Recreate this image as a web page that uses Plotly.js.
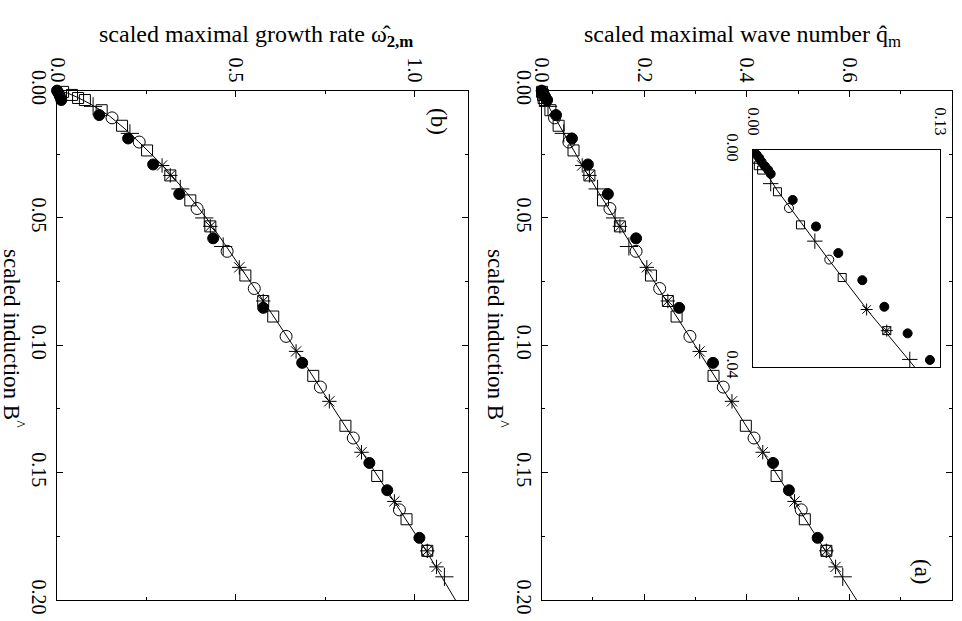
<!DOCTYPE html>
<html>
<head>
<meta charset="utf-8">
<script src="https://cdn.plot.ly/plotly-3.0.1.min.js"></script>
<style>
html,body{margin:0;padding:0;background:#fff;}
#chart{width:962px;height:621px;}
</style>
</head>
<body>
<div id="chart"></div>
<script>
// ---- data ----
// filled circles (main panels)
const B_filled = [0, 0.0009, 0.0022, 0.0037, 0.0096, 0.0188, 0.0290, 0.0406, 0.0580, 0.0853, 0.1069, 0.1462, 0.1569, 0.1756];
const w_filled = [0, 0.004, 0.008, 0.012, 0.118, 0.199, 0.269, 0.342, 0.437, 0.577, 0.686, 0.874, 0.924, 1.014];
const q_filled = [0, 0.0026, 0.006, 0.0106, 0.0279, 0.059, 0.090, 0.129, 0.184, 0.268, 0.334, 0.451, 0.482, 0.538];
// open circles
const B_circ = [0.0107, 0.0202, 0.0463, 0.0631, 0.0777, 0.0965, 0.1164, 0.1364, 0.1646, 0.1807];
const w_circ = [0.154, 0.230, 0.392, 0.476, 0.552, 0.641, 0.737, 0.829, 0.958, 1.036];
const q_circ = [0.025, 0.053, 0.133, 0.184, 0.230, 0.289, 0.354, 0.414, 0.506, 0.555];
// open squares
const B_sq = [0.0005, 0.0017, 0.0029, 0.0037, 0.0077, 0.0138, 0.0235, 0.0333, 0.0431, 0.0533, 0.0726, 0.0826, 0.0887, 0.1120, 0.1316, 0.1513, 0.1683, 0.1807];
const w_sq = [0.017, 0.042, 0.059, 0.078, 0.125, 0.182, 0.252, 0.317, 0.373, 0.429, 0.527, 0.577, 0.605, 0.717, 0.807, 0.896, 0.978, 1.036];
const q_sq = [0.0007, 0.0026, 0.0037, 0.006, 0.017, 0.033, 0.062, 0.093, 0.1195, 0.1525, 0.213, 0.246, 0.263, 0.335, 0.398, 0.458, 0.513, 0.555];
// asterisks
const B_ast = [0.0294, 0.0333, 0.0533, 0.0694, 0.0826, 0.1024, 0.1220, 0.1420, 0.1613, 0.1807, 0.1870];
const w_ast = [0.294, 0.317, 0.429, 0.510, 0.577, 0.669, 0.762, 0.852, 0.944, 1.036, 1.062];
const q_ast = [0.079, 0.093, 0.1525, 0.205, 0.246, 0.308, 0.371, 0.431, 0.493, 0.555, 0.573];
// plus signs
const B_plus = [0.0062, 0.0168, 0.0386, 0.0500, 0.0612, 0.1909];
const w_plus = [0.101, 0.204, 0.345, 0.412, 0.465, 1.084];
const q_plus = [0.0123, 0.043, 0.109, 0.143, 0.170, 0.587];
// solid curves
const B_line = [0, 0.001, 0.0025, 0.005, 0.0075, 0.01, 0.015, 0.02, 0.03, 0.04, 0.05, 0.06, 0.08, 0.10, 0.12, 0.14, 0.16, 0.18, 0.20];
const w_line = [0, 0.03, 0.055, 0.09, 0.12, 0.147, 0.19, 0.228, 0.30, 0.362, 0.418, 0.468, 0.565, 0.66, 0.752, 0.844, 0.938, 1.03, 1.115];
const q_line = [0, 0.002, 0.005, 0.011, 0.017, 0.024, 0.038, 0.052, 0.081, 0.111, 0.142, 0.172, 0.235, 0.299, 0.362, 0.425, 0.489, 0.552, 0.614];
// inset filled circles
const B_inset = [0.0003, 0.0009, 0.0015, 0.0022, 0.0030, 0.0037, 0.0044, 0.0092, 0.0141, 0.0190, 0.0240, 0.0289, 0.0338, 0.0387];
const q_inset = [0.0007, 0.0026, 0.0044, 0.0060, 0.0083, 0.0106, 0.0123, 0.0276, 0.0438, 0.0593, 0.0760, 0.0913, 0.1075, 0.1230];

// ---- tick labels ----
const qInsetTicks = ['0.00', '0.13'];
const BInsetTicks = ['0.00', '0.04'];

const W = 962, H = 621;
const px = v => v / W;
const py = v => 1 - v / H;
const FONT = 'Liberation Serif';

function series(x, y, xa, ya, sym, size, clip) {
  return {
    x: x, y: y, xaxis: xa, yaxis: ya, type: 'scatter', mode: 'markers',
    cliponaxis: clip, showlegend: false, hoverinfo: 'skip',
    marker: {symbol: sym, size: size, color: '#000', line: {color: '#000', width: 1}}
  };
}
function curve(x, y, xa, ya) {
  return {x: x, y: y, xaxis: xa, yaxis: ya, type: 'scatter', mode: 'lines',
    line: {color: '#000', width: 1}, showlegend: false, hoverinfo: 'skip'};
}

const traces = [
  // panel (b)
  curve(w_line, B_line, 'x', 'y'),
  series(w_sq, B_sq, 'x', 'y', 'square-open', 11, false),
  series(w_circ, B_circ, 'x', 'y', 'circle-open', 12, false),
  series(w_ast, B_ast, 'x', 'y', 'asterisk-open', 12, false),
  series(w_plus, B_plus, 'x', 'y', 'cross-thin-open', 13, false),
  series(w_filled, B_filled, 'x', 'y', 'circle', 11, false),
  // panel (a)
  curve(q_line, B_line, 'x2', 'y2'),
  series(q_sq, B_sq, 'x2', 'y2', 'square-open', 11, false),
  series(q_circ, B_circ, 'x2', 'y2', 'circle-open', 12, false),
  series(q_ast, B_ast, 'x2', 'y2', 'asterisk-open', 12, false),
  series(q_plus, B_plus, 'x2', 'y2', 'cross-thin-open', 13, false),
  series(q_filled, B_filled, 'x2', 'y2', 'circle', 11, false),
  // inset
  curve(q_line, B_line, 'x3', 'y3'),
  series(q_sq, B_sq, 'x3', 'y3', 'square-open', 8, true),
  series(q_circ, B_circ, 'x3', 'y3', 'circle-open', 9, true),
  series(q_ast, B_ast, 'x3', 'y3', 'asterisk-open', 10, true),
  series(q_plus, B_plus, 'x3', 'y3', 'cross-thin-open', 11, true),
  series(q_inset, B_inset, 'x3', 'y3', 'circle', 9, true)
];

function mainAxis(extra) {
  return Object.assign({
    tickmode: 'linear', tick0: 0,
    ticks: 'inside', ticklen: 6, tickwidth: 1, tickcolor: '#000',
    mirror: 'allticks', showline: true, linecolor: '#000', linewidth: 1,
    showgrid: false, zeroline: false, tickangle: 90,
    tickfont: {family: FONT, size: 20, color: '#000'},
    fixedrange: true
  }, extra);
}
function minor(d) {
  return {dtick: d, tick0: 0, ticks: 'inside', ticklen: 3, tickwidth: 1, tickcolor: '#000', showgrid: false};
}

const yDom = [py(600), py(90.6)];
const layout = {
  width: W, height: H,
  margin: {l: 0, r: 0, t: 0, b: 0},
  paper_bgcolor: '#fff', plot_bgcolor: '#fff',
  showlegend: false,
  xaxis: mainAxis({domain: [px(57), px(468)], range: [0, 1.15], anchor: 'y', side: 'top',
                   dtick: 0.5, tickformat: '.1f', minor: minor(0.25)}),
  yaxis: mainAxis({domain: yDom, range: [0.2, 0], anchor: 'x',
                   dtick: 0.05, tickformat: '.2f', minor: minor(0.025)}),
  xaxis2: mainAxis({domain: [px(541.7), px(952)], range: [0, 0.8], anchor: 'y2', side: 'top',
                    dtick: 0.2, tickformat: '.1f', minor: minor(0.1)}),
  yaxis2: mainAxis({domain: yDom, range: [0.2, 0], anchor: 'x2',
                    dtick: 0.05, tickformat: '.2f', minor: minor(0.025)}),
  xaxis3: {
    domain: [px(753), px(940)], range: [0, 0.13], anchor: 'y3', side: 'top',
    tickmode: 'array', tickvals: qInsetTicks.map(Number), ticktext: qInsetTicks,
    ticks: '', mirror: true, showline: true, linecolor: '#000', linewidth: 1,
    showgrid: false, zeroline: false, tickangle: 90,
    tickfont: {family: FONT, size: 16, color: '#000'}, ticklabelstandoff: 8,
    fixedrange: true
  },
  yaxis3: {
    domain: [py(367), py(150)], range: [0.04, 0], anchor: 'x3',
    tickmode: 'array', tickvals: BInsetTicks.map(Number), ticktext: BInsetTicks,
    ticks: '', mirror: true, showline: true, linecolor: '#000', linewidth: 1,
    showgrid: false, zeroline: false, tickangle: 90,
    tickfont: {family: FONT, size: 16, color: '#000'}, ticklabelstandoff: 6,
    fixedrange: true
  },
  annotations: [
    {text: 'scaled maximal growth rate \u03C9\u0302<sub><b>2,m</b></sub>', xref: 'paper', yref: 'paper',
     x: px(256), y: py(36), xanchor: 'center', yanchor: 'middle', showarrow: false,
     font: {family: FONT, size: 24, color: '#000'}},
    {text: 'scaled maximal wave number q\u0302<sub>m</sub>', xref: 'paper', yref: 'paper',
     x: px(742), y: py(36), xanchor: 'center', yanchor: 'middle', showarrow: false,
     font: {family: FONT, size: 24, color: '#000'}},
    {text: 'scaled induction B<sup>^</sup>', xref: 'paper', yref: 'paper', textangle: 90,
     x: px(14), y: py(338), xanchor: 'center', yanchor: 'middle', showarrow: false,
     font: {family: FONT, size: 23, color: '#000'}},
    {text: 'scaled induction B<sup>^</sup>', xref: 'paper', yref: 'paper', textangle: 90,
     x: px(498), y: py(338), xanchor: 'center', yanchor: 'middle', showarrow: false,
     font: {family: FONT, size: 23, color: '#000'}},
    {text: '(b)', xref: 'paper', yref: 'paper', textangle: 90,
     x: px(438), y: py(121), xanchor: 'center', yanchor: 'middle', showarrow: false,
     font: {family: FONT, size: 23, color: '#000'}},
    {text: '(a)', xref: 'paper', yref: 'paper', textangle: 90,
     x: px(923), y: py(572), xanchor: 'center', yanchor: 'middle', showarrow: false,
     font: {family: FONT, size: 23, color: '#000'}}
  ]
};

Plotly.newPlot('chart', traces, layout, {staticPlot: true, displayModeBar: false});
</script>
</body>
</html>
